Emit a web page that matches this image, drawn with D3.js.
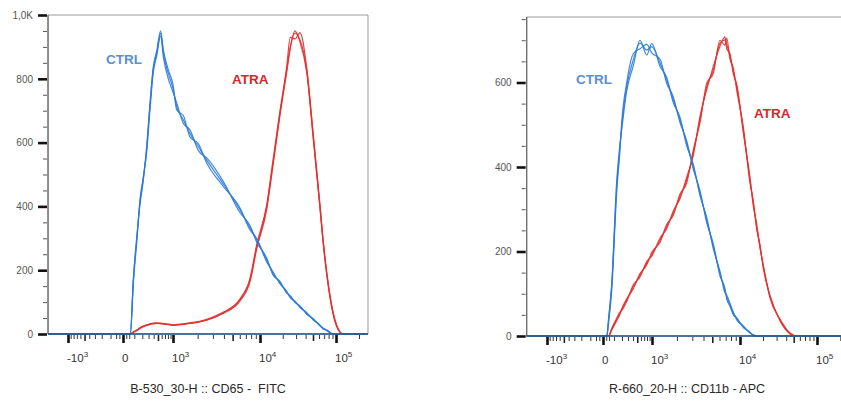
<!DOCTYPE html>
<html><head><meta charset="utf-8">
<script src="https://cdn.jsdelivr.net/npm/d3@7"></script>
<style>body{margin:0;background:#fff}svg{display:block}text{white-space:pre}</style>
</head><body>
<svg id="chart" width="841" height="401"></svg>
<script>
// ---- CD65 / FITC panel: intensity bins and event counts (3 replicates per condition)
const cd65Bins = [-2100, 0, 60, 90, 130, 170, 205, 270, 325, 390, 470, 570, 650, 815, 1000, 1115, 1350, 1620, 2040, 2550, 3900, 6040, 7780, 9200, 12270, 14880, 18410, 22560, 25140, 29010, 33740, 41320, 50430, 61760, 67580, 75580, 91380, 112760, 124560, 262000];
const cd65Ctrl1 = [0,0,0,169,305,420,473,587,713,828,880,943,880,817,770,713,671,629,587,545,472,389,333,295,232,190,161,131,117,101,86,65,46,27,18,12,0,0,0,0];
const cd65Ctrl2 = [0,0,0,160,296,428,480,575,700,818,872,935,868,800,758,724,660,640,575,552,480,380,340,288,238,185,165,128,120,99,88,62,48,25,19,10,0,0,0,0];
const cd65Ctrl3 = [0,0,0,175,312,410,466,595,722,836,888,950,890,828,782,702,684,618,596,536,464,395,326,300,226,195,157,134,113,103,83,67,44,28,16,13,0,0,0,0];
const cd65Atra1 = [0,0,0,6,12,19,23,28,31,33,34,33,32,30,28,29,31,34,38,44,66,107,169,273,398,536,693,828,900,943,922,828,618,398,295,191,66,6,0,0];
const cd65Atra2 = [0,0,0,5,11,18,22,27,30,32,33,34,33,31,29,30,32,35,39,46,68,110,175,280,405,545,700,838,930,925,945,835,625,405,300,195,70,7,0,0];
const cd65Atra3 = [0,0,0,7,13,20,24,29,32,34,35,32,31,29,27,28,30,33,37,43,64,104,164,266,390,528,686,820,895,950,915,820,610,392,290,187,63,5,0,0];

// ---- CD11b / APC panel
const cd11bBins = [-2100, 0, 30, 45, 75, 130, 172, 196, 276, 406, 574, 789, 990, 1260, 1515, 1815, 2170, 2590, 3075, 3655, 4340, 5130, 6070, 6880, 7180, 7800, 8470, 9210, 11050, 13520, 14930, 16540, 18260, 20170, 24640, 33220, 44760, 54640, 262000];
const cd11bCtrl1 = [0,0,0,37,117,354,448,496,590,654,693,677,685,646,606,559,512,456,401,338,275,212,148,107,93,74,54,43,22,8,2,0,0,0,0,0,0,0,0];
const cd11bCtrl2 = [0,0,0,30,108,340,440,505,600,668,680,690,670,655,598,566,505,462,395,344,268,218,142,112,88,70,50,42,20,9,1,0,0,0,0,0,0,0,0];
const cd11bCtrl3 = [0,0,0,42,125,366,455,488,580,640,700,665,692,638,612,552,518,450,407,332,281,206,153,102,97,77,57,38,24,7,3,0,0,0,0,0,0,0,0];
const cd11bAtra1 = [0,0,0,0,16,39,54,62,85,117,144,172,193,227,259,291,330,369,433,512,590,630,693,701,690,662,627,590,488,369,314,259,212,164,93,38,6,0,0];
const cd11bAtra2 = [0,0,0,0,14,36,52,64,88,112,148,168,198,222,264,286,336,362,440,505,598,622,700,688,705,655,634,582,495,362,320,252,216,160,96,36,5,0,0];
const cd11bAtra3 = [0,0,0,0,18,42,57,60,82,121,140,176,189,232,254,296,325,376,427,520,583,638,686,708,680,668,620,597,481,375,308,265,208,168,90,40,7,0,0];

// ---- axis ticks and labels
const xMajor = [-1000, 0, 1000, 10000, 100000];
const xMajorBase = ["-10", "0", "10", "10", "10"];
const xMajorSup = ["3", "", "3", "4", "5"];
const xMid = [-500, 500, 5000, 50000];
const xMinor = [-900,-800,-700,-600,-400,-300,-200,-100,-50,-25,25,50,100,200,300,400,600,700,800,900,
  2000,3000,4000,6000,7000,8000,9000,20000,30000,40000,60000,70000,80000,90000,200000];
const xRange = [-2100, 262000];

const yMajorCd65 = [0, 200, 400, 600, 800, 1000];
const yLabelCd65 = ["0", "200", "400", "600", "800", "1,0K"];
const yMajorCd11b = [0, 200, 400, 600];
const yLabelCd11b = ["0", "200", "400", "600"];

const BLUE = "#2a7ad8", RED = "#e3302f";

const svg = d3.select("#chart");

function drawPanel(p) {
  const x = d3.scaleSymlog().constant(200)
    .domain([-1000, 0, 1000, 10000, 100000]).range(p.xPix);
  const y = d3.scaleLinear().domain(p.yDomain).range(p.yPix);
  const g = svg.append("g");
  const L = x(xRange[0]), R = x(xRange[1]), T = y(p.yDomain[1]), B = y(0);

  // frame
  g.append("path").attr("d", `M${L},${B}V${T}H${R}V${B}`)
    .attr("fill", "none").attr("stroke", "#9a9a9a").attr("stroke-width", 1);
  g.append("line").attr("x1", L).attr("x2", L).attr("y1", T).attr("y2", B)
    .attr("stroke", "#6e6e6e").attr("stroke-width", 1.3);

  // histogram traces
  const line = d3.line().x(d => x(d[0])).y(d => y(d[1])).curve(d3.curveMonotoneX);
  const traces = [
    ...p.atra.map(c => ({c, color: RED})),
    ...p.ctrl.map(c => ({c, color: BLUE}))
  ];
  g.selectAll("path.trace").data(traces).join("path").attr("class", "trace")
    .attr("d", t => line(p.bins.map((b, i) => [b, t.c[i]])))
    .attr("fill", "none").attr("stroke", t => t.color)
    .attr("stroke-width", 1.2).attr("stroke-opacity", 0.9);

  // bottom axis line
  g.append("line").attr("x1", L).attr("x2", R).attr("y1", B).attr("y2", B)
    .attr("stroke", "#3a3a3a").attr("stroke-width", 1.4);
  g.append("line").attr("x1", L).attr("x2", R).attr("y1", B).attr("y2", B)
    .attr("stroke", BLUE).attr("stroke-width", 1.2).attr("stroke-opacity", 0.85);

  // x ticks
  const xt = (vals, size, w, col) => {
    const a = g.append("g").attr("transform", `translate(0,${B + 1})`)
      .call(d3.axisBottom(x).tickValues(vals).tickSize(size).tickFormat(""));
    a.select(".domain").remove();
    a.selectAll("line").attr("stroke", col).attr("stroke-width", w);
  };
  xt(xMinor, 4, 1, "#333");
  xt(xMid, 6, 1.6, "#222");
  xt(xMajor, 8, 2.6, "#111");

  const lab = g.append("g").attr("font-family", "Liberation Sans, Arial, sans-serif")
    .attr("fill", "#333");
  xMajor.forEach((v, i) => {
    const t = lab.append("text").attr("x", x(v) - 1).attr("y", B + 28)
      .attr("font-size", 11.5).attr("text-anchor", "start");
    t.append("tspan").text(xMajorBase[i]);
    if (xMajorSup[i]) t.append("tspan").attr("dy", -5).attr("font-size", 8).text(xMajorSup[i]);
  });
  lab.append("text").attr("x", p.titleX).attr("y", 393).attr("text-anchor", "middle")
    .attr("font-size", 12.5).attr("fill", "#2a2a2a").attr("xml:space", "preserve").text(p.title);

  // y ticks
  const yMinor = d3.range(50, p.yDomain[1] + 1, 50).filter(v => !p.yMajor.includes(v));
  const ya = g.append("g").attr("transform", `translate(${L - 1},0)`)
    .call(d3.axisLeft(y).tickValues(yMinor).tickSize(4).tickFormat(""));
  ya.select(".domain").remove();
  ya.selectAll("line").attr("stroke", "#555").attr("stroke-width", 1);
  const yb = g.append("g").attr("transform", `translate(${L - 1},0)`)
    .call(d3.axisLeft(y).tickValues(p.yMajor).tickSize(9).tickPadding(5)
      .tickFormat((d, i) => p.yLabels[i]));
  yb.select(".domain").remove();
  yb.selectAll("line").attr("stroke", "#111").attr("stroke-width", 2.6);
  yb.selectAll("text").attr("font-family", "Liberation Sans, Arial, sans-serif")
    .attr("font-size", 10).attr("fill", "#555");

  // condition labels
  p.notes.forEach(n => {
    g.append("text").attr("x", n.x).attr("y", n.y)
      .attr("font-family", "Liberation Sans, Arial, sans-serif")
      .attr("font-size", 13.5).attr("font-weight", n.bold ? 700 : 600)
      .attr("fill", n.color).text(n.text);
  });
}

drawPanel({
  bins: cd65Bins,
  ctrl: [cd65Ctrl1, cd65Ctrl2, cd65Ctrl3],
  atra: [cd65Atra1, cd65Atra2, cd65Atra3],
  xPix: [68, 123, 173, 260, 336],
  yDomain: [0, 1000], yPix: [334, 15],
  yMajor: yMajorCd65, yLabels: yLabelCd65,
  title: "B-530_30-H :: CD65 -  FITC", titleX: 208,
  notes: [
    {text: "CTRL", x: 106, y: 64, color: "#5a8fd2"},
    {text: "ATRA", x: 232, y: 84, color: "#d8282b", bold: true}
  ]
});

drawPanel({
  bins: cd11bBins,
  ctrl: [cd11bCtrl1, cd11bCtrl2, cd11bCtrl3],
  atra: [cd11bAtra1, cd11bAtra2, cd11bAtra3],
  xPix: [547, 603, 652, 740, 817],
  yDomain: [0, 755], yPix: [336, 17],
  yMajor: yMajorCd11b, yLabels: yLabelCd11b,
  title: "R-660_20-H :: CD11b - APC", titleX: 687,
  notes: [
    {text: "CTRL", x: 576, y: 84, color: "#5a8fd2"},
    {text: "ATRA", x: 754, y: 118, color: "#d8282b", bold: true}
  ]
});
</script>
</body></html>
